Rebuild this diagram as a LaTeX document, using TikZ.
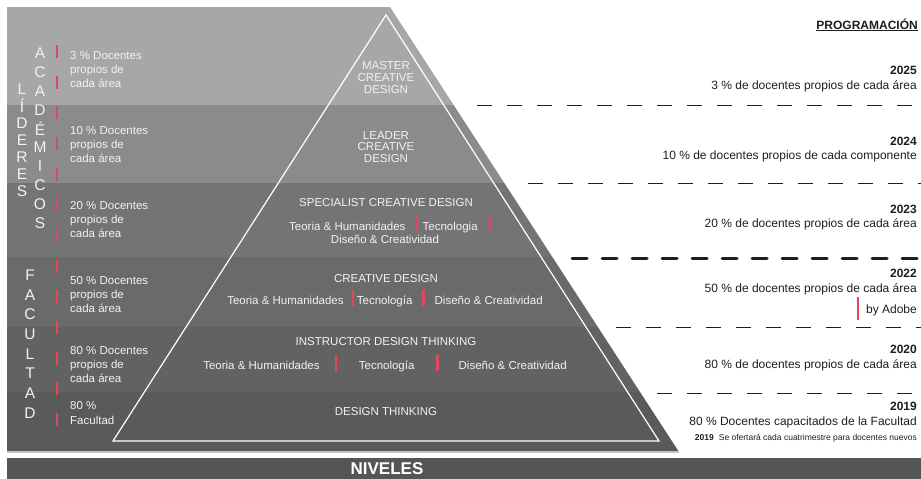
\documentclass[tikz,border=0pt]{standalone}
\usepackage{fontspec}
\setmainfont{Liberation Sans}
\usetikzlibrary{positioning,calc}
\definecolor{bandA}{HTML}{A7A7A7}
\definecolor{bandB}{HTML}{8B8B8B}
\definecolor{bandC}{HTML}{747474}
\definecolor{bandD}{HTML}{6A6A6A}
\definecolor{bandE}{HTML}{626262}
\definecolor{bandF}{HTML}{5A5A5A}
\definecolor{barfill}{HTML}{555555}
\definecolor{rimline}{HTML}{C4C4C4}
\definecolor{accent}{HTML}{E2475C}
\definecolor{ink}{HTML}{1E1E1E}
\newcommand{\sepbar}{{\color{accent}\rule[-2pt]{2.2pt}{16pt}}}

\begin{document}
\begin{tikzpicture}[
  x=1pt, y=-1pt, inner sep=0pt,
  light/.style={text=white!95!black},
  side/.style={light, anchor=base west, align=left, font=\fontsize{11.5}{14}\selectfont},
  lvl/.style={light, anchor=base, align=center, font=\fontsize{11.5}{12}\selectfont},
  letter/.style={light, font=\fontsize{15.5}{15.5}\selectfont},
  plan/.style={anchor=base east, text=ink, font=\fontsize{12}{14}\selectfont},
  year/.style={plan, font=\bfseries\fontsize{12}{14}\selectfont},
  sep/.style={ink, line width=1pt, dash pattern=on 15pt off 15pt}
]
\useasboundingbox (0,0) rectangle (921,479);

% --- Pyramid body ---
\coordinate (tl) at (7,7);
\coordinate (tr) at (390,7);
\coordinate (br) at (679,452);
\coordinate (bl) at (7,452);
\begin{scope}
  \clip (tl) -- (tr) -- (br) -- (bl) -- cycle;
  \foreach \ya/\yb/\c in {7/105/bandA,105/183/bandB,183/257/bandC,257/327/bandD,327/392/bandE,392/452/bandF}
    \fill[\c] (0,\ya) rectangle (700,\yb);
\end{scope}
\draw[rimline, line width=1.2pt] (bl) -- (br);
\coordinate (apex) at (386,15);
\coordinate (baseR) at (659,441);
\coordinate (baseL) at (113,441);
\draw[white, line width=1.2pt] (apex) -- (baseR) -- (baseL) -- cycle;

% --- Levels (multi-line nodes sit on their last baseline) ---
\node[lvl] (master) at (386,93) {MASTER\\CREATIVE\\DESIGN};
\node[lvl, font=\fontsize{11.5}{11.5}\selectfont] (leader) at (386,162) {LEADER\\CREATIVE\\DESIGN};
\node[lvl] (spec) at (386,206) {SPECIALIST CREATIVE DESIGN};
\node[lvl] (specA) at (390,230) {Teoria \& Humanidades\hspace{10pt}\sepbar\hspace{5pt}Tecnologia\hspace{11pt}\sepbar};
\node[lvl] (specB) at (385,243) {Diseño \& Creatividad};
\node[lvl] (creative) at (386,282) {CREATIVE DESIGN};
\node[lvl] (creativeA) at (385,304) {Teoria \& Humanidades\hspace{8pt}\sepbar\hspace{3pt}Tecnología\hspace{10pt}\sepbar\hspace{10pt}Diseño \& Creatividad};
\node[lvl] (instr) at (386,345) {INSTRUCTOR DESIGN THINKING};
\node[lvl] (instrA) at (385,369) {Teoria \& Humanidades\hspace{15pt}\sepbar\hspace{22pt}Tecnología\hspace{22pt}\sepbar\hspace{20pt}Diseño \& Creatividad};
\node[lvl] (dthink) at (386,415) {DESIGN THINKING};

% --- Left column ---
\foreach \ch [count=\i from 0] in {L,Í,D,E,R,E,S}
  \node[letter] (lid\i) at (22,{89+17*\i}) {\ch};
\foreach \ch [count=\i from 0] in {A,C,A,D,É,M,I,C,O,S}
  \node[letter] (aca\i) at (40,{53+18.9*\i}) {\ch};
\foreach \ch [count=\i from 0] in {F,A,C,U,L,T,A,D}
  \node[letter] (fac\i) at (30,{275+19.7*\i}) {\ch};
\coordinate (rtop) at (57,45);
\coordinate (rbot) at (57,428);
\draw[accent, line width=1.6pt, dash pattern=on 13pt off 17.67pt] (rtop) -- (rbot);

\node[side] (p3)  at (70,87)  {3 \% Docentes\\propios de\\cada área};
\node[side] (p10) at (70,162) {10 \% Docentes\\propios de\\cada área};
\node[side] (p20) at (70,237) {20 \% Docentes\\propios de\\cada área};
\node[side] (p50) at (70,312) {50 \% Docentes\\propios de\\cada área};
\node[side] (p80) at (70,382) {80 \% Docentes\\propios de\\cada área};
\node[side, font=\fontsize{11.5}{15}\selectfont] (pfac) at (70,424) {80 \%\\Facultad};

% --- Programación ---
\node[year] (prog) at (918,29) {\underline{PROGRAMACIÓN}};
\node[year] (y25) at (917,74)  {2025};
\node[plan, below=15pt of y25.base east, anchor=base east] (t25) {3 \% de docentes propios de cada área};
\node[year] (y24) at (917,145) {2024};
\node[plan, below=14pt of y24.base east, anchor=base east] (t24) {10 \% de docentes propios de cada componente};
\node[year] (y23) at (917,213) {2023};
\node[plan, below=14pt of y23.base east, anchor=base east] (t23) {20 \% de docentes propios de cada área};
\node[year] (y22) at (917,277) {2022};
\node[plan, below=15pt of y22.base east, anchor=base east] (t22) {50 \% de docentes propios de cada área};
\node[plan] (adobe) at (917,313) {by Adobe};
\coordinate (atop) at (858,297);
\coordinate (abot) at (858,320);
\draw[accent, line width=2.4pt] (atop) -- (abot);
\node[year] (y20) at (917,353) {2020};
\node[plan, below=15pt of y20.base east, anchor=base east] (t20) {80 \% de docentes propios de cada área};
\node[year] (y19) at (917,410) {2019};
\node[plan, below=15pt of y19.base east, anchor=base east] (t19) {80 \% Docentes capacitados de la Facultad};
\node[anchor=base east, text=ink, font=\fontsize{8.5}{10}\selectfont] (note) at (917,440)
  {\textbf{2019}\hspace{5pt}Se ofertará cada cuatrimestre para docentes nuevos};

% --- Separators ---
\foreach \n/\xa/\yy in {1/477/105, 2/528/183, 4/616/327, 5/657/393} {
  \coordinate (s\n w) at (\xa,\yy);
  \coordinate (s\n e) at (921,\yy);
  \draw[sep] (s\n w) -- (s\n e);
}
\coordinate (s3w) at (572,258);
\coordinate (s3e) at (921,258);
\draw[ink, line width=3pt, line cap=round, dash pattern=on 15pt off 15pt] (s3w) -- (s3e);

% --- Bottom bar ---
\fill[barfill] (7,458) rectangle (921,479);
\node[text=white, font=\bfseries\fontsize{17}{17}\selectfont] (niv) at (387,469) {NIVELES};

\end{tikzpicture}
\end{document}
